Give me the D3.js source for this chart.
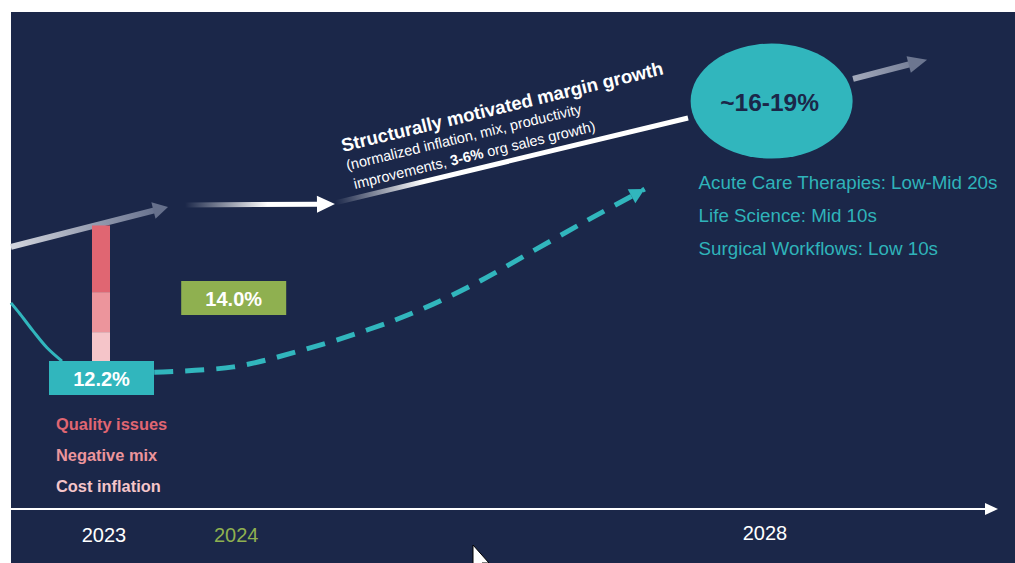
<!DOCTYPE html>
<html>
<head>
<meta charset="utf-8">
<script src="https://cdn.jsdelivr.net/npm/d3@7"></script>
<style>
  html, body { margin: 0; padding: 0; background: #ffffff; }
  svg { display: block; font-family: "Liberation Sans", Arial, sans-serif; }
</style>
</head>
<body>
<svg id="chart" width="1015" height="563"></svg>
<script>
// ---- data ----------------------------------------------------------------
const years = [2023, 2024, 2028];
const yearLabels = ["2023", "2024", "2028"];
const marginValues = [12.2, 14.0];            // adjusted op. margin, 2023 and 2024
const marginLabels = ["12.2%", "14.0%"];
const targetLabel = "~16-19%";
const targetAnchor = [2028.05, 18.43];        // bubble centre (year, margin)

// 2023 margin headwinds, in margin points (stacked from the bottom)
const driverNames = ["Cost inflation", "Negative mix", "Quality issues"];
const driverPoints = [0.65, 0.9, 1.5];

const segmentLabels = [
  "Acute Care Therapies: Low-Mid 20s",
  "Life Science: Mid 10s",
  "Surgical Workflows: Low 10s"
];

// margin decline into 2023 (year, margin)
const declinePath = [[2022.296, 13.89], [2022.365, 13.64], [2022.463, 13.26], [2022.569, 12.88], [2022.682, 12.58]];
// projected recovery path after 2023 (year, margin)
const recoveryPath = [[2023.38, 12.33], [2023.98, 12.45], [2024.48, 12.81], [2024.99, 13.28],
                      [2025.39, 13.73], [2025.83, 14.36], [2026.27, 15.10], [2026.70, 15.82], [2027.09, 16.45]];
// structural trend arrows (year, margin) start -> end
const trendFrom = [[2022.296, 15.15], [2023.613, 16.09], [2024.747, 16.14], [2028.666, 18.93]];
const trendTo   = [[2023.484, 16.05], [2024.747, 16.115], [2027.418, 18.05], [2029.226, 19.36]];

// ---- setup ---------------------------------------------------------------
const NAVY = "#1b2749", TEAL = "#31b6bd", GREEN = "#8fb050";
const driverColors = ["#f5c5c9", "#ec959c", "#e06672"];

const svg = d3.select("#chart");
const x = d3.scaleLinear().domain([2023, 2028]).range([104, 765]);
const y = d3.scaleLinear().domain([12.2, 14.0]).range([378, 298]);

svg.append("rect").attr("x", 11).attr("y", 12).attr("width", 1004).attr("height", 551).attr("fill", NAVY);

const defs = svg.append("defs");
function grad(id, p0, p1, stops) {
  const g = defs.append("linearGradient").attr("id", id).attr("gradientUnits", "userSpaceOnUse")
    .attr("x1", x(p0[0])).attr("y1", y(p0[1])).attr("x2", x(p1[0])).attr("y2", y(p1[1]));
  stops.forEach(s => g.append("stop").attr("offset", s[0]).attr("stop-color", s[1]).attr("stop-opacity", s[2] == null ? 1 : s[2]));
}
grad("g0", trendFrom[0], trendTo[0], [[0, "#d3d6de"], [1, "#5f6a88"]]);
grad("g1", trendFrom[1], trendTo[1], [[0, "#ffffff", 0], [0.55, "#ffffff", 1], [1, "#ffffff", 1]]);
grad("g2", trendFrom[2], trendTo[2], [[0, "#ffffff", 0], [0.25, "#ffffff", 1], [1, "#ffffff", 1]]);
grad("g3", trendFrom[3], trendTo[3], [[0, "#a3a9bb"], [1, "#6c7690"]]);

const headFill = ["#66708c", "#ffffff", null, "#6c7690"];
const headLen = [15, 18, 0, 19];
const lineW = [6, 5, 5, 6];

// ---- trend arrows --------------------------------------------------------
trendFrom.forEach((a, i) => {
  const x0 = x(a[0]), y0 = y(a[1]), x1 = x(trendTo[i][0]), y1 = y(trendTo[i][1]);
  const ang = Math.atan2(y1 - y0, x1 - x0);
  const hl = headLen[i];
  const bx = x1 - hl * Math.cos(ang), by = y1 - hl * Math.sin(ang);
  svg.append("line").attr("x1", x0).attr("y1", y0).attr("x2", bx + (hl ? 1 : 0) * Math.cos(ang)).attr("y2", by + (hl ? 1 : 0) * Math.sin(ang))
    .attr("stroke", `url(#g${i})`).attr("stroke-width", lineW[i]);
  if (hl) {
    const hw = 8.5;
    const px = -Math.sin(ang), py = Math.cos(ang);
    svg.append("path")
      .attr("d", `M${x1},${y1}L${bx + px * hw},${by + py * hw}L${bx - px * hw},${by - py * hw}Z`)
      .attr("fill", headFill[i]);
  }
});

// ---- rotated caption along the structural trend --------------------------
const cap = svg.append("g")
  .attr("transform", `translate(${x(2024.747) + 8},${y(16.14) - 51}) rotate(-13.6)`)
  .attr("fill", "#ffffff");
cap.append("text").attr("x", 0).attr("y", 0).attr("font-size", 18.6).attr("font-weight", "bold")
  .text("Structurally motivated margin growth");
cap.append("text").attr("x", 0).attr("y", 19).attr("font-size", 14.5)
  .text("(normalized inflation, mix, productivity");
const l3 = cap.append("text").attr("x", 3).attr("y", 39).attr("font-size", 14.5);
l3.append("tspan").text("improvements, ");
l3.append("tspan").attr("font-weight", "bold").text("3-6%");
l3.append("tspan").text(" org sales growth)");

// ---- decline and recovery paths -----------------------------------------
const line = d3.line().x(d => x(d[0])).y(d => y(d[1])).curve(d3.curveCatmullRom);
svg.append("path").datum(declinePath).attr("d", line)
  .attr("fill", "none").attr("stroke", TEAL).attr("stroke-width", 3);
svg.append("path").datum(recoveryPath).attr("d", line)
  .attr("fill", "none").attr("stroke", TEAL).attr("stroke-width", 5).attr("stroke-dasharray", "19,12");
{
  const n = recoveryPath.length, p1 = recoveryPath[n - 1], p0 = recoveryPath[n - 2];
  const tx = x(p1[0]), ty = y(p1[1]);
  const ang = Math.atan2(ty - y(p0[1]), tx - x(p0[0]));
  const hl = 15, hw = 8;
  const bx = tx - hl * Math.cos(ang), by = ty - hl * Math.sin(ang);
  const px = -Math.sin(ang), py = Math.cos(ang);
  svg.append("path").attr("d", `M${tx},${ty}L${bx + px * hw},${by + py * hw}L${bx - px * hw},${by - py * hw}Z`).attr("fill", TEAL);
}

// ---- 2023 headwind stack -------------------------------------------------
const boxH = 34, boxW = 105;
let cum = 0;
const stack = driverPoints.map((v, i) => { const s = { i, lo: cum, hi: cum + v }; cum += v; return s; });
svg.selectAll("rect.drv").data(stack).join("rect").attr("class", "drv")
  .attr("x", x(2023) - 12).attr("width", 18)
  .attr("y", d => y(marginValues[0] + d.hi) - boxH / 2)
  .attr("height", d => y(marginValues[0] + d.lo) - y(marginValues[0] + d.hi))
  .attr("fill", d => driverColors[d.i]);

// ---- margin boxes --------------------------------------------------------
const boxX = [x(2023) - 55, x(2024) - 55];
const boxFill = [TEAL, GREEN];
marginValues.forEach((v, i) => {
  svg.append("rect").attr("x", boxX[i]).attr("y", y(v) - boxH / 2).attr("width", boxW).attr("height", boxH).attr("fill", boxFill[i]);
  svg.append("text").attr("x", boxX[i] + boxW / 2).attr("y", y(v) + 8).attr("text-anchor", "middle")
    .attr("font-size", 20).attr("font-weight", "bold").attr("fill", "#ffffff").text(marginLabels[i]);
});

// ---- driver legend -------------------------------------------------------
driverNames.slice().reverse().forEach((name, k) => {
  svg.append("text").attr("x", 56).attr("y", 430 + k * 31).attr("font-size", 16.4).attr("font-weight", "bold")
    .attr("fill", driverColors[driverColors.length - 1 - k]).text(name);
});

// ---- target bubble -------------------------------------------------------
const cx = x(targetAnchor[0]), cy = y(targetAnchor[1]);
svg.append("ellipse").attr("cx", cx).attr("cy", cy).attr("rx", 81).attr("ry", 57.5).attr("fill", TEAL);
svg.append("text").attr("x", cx - 2).attr("y", cy + 10).attr("text-anchor", "middle")
  .attr("font-size", 24.5).attr("font-weight", "bold").attr("fill", NAVY).text(targetLabel);

segmentLabels.forEach((t, k) => {
  svg.append("text").attr("x", cx - 73).attr("y", 189 + k * 33).attr("font-size", 18.75)
    .attr("fill", "#2fb3ba").text(t);
});

// ---- time axis -----------------------------------------------------------
svg.append("line").attr("x1", 11).attr("x2", 987).attr("y1", 509).attr("y2", 509).attr("stroke", "#ffffff").attr("stroke-width", 2);
svg.append("path").attr("d", "M998,509L985,503L985,515Z").attr("fill", "#ffffff");
const yearColors = ["#ffffff", GREEN, "#ffffff"];
years.forEach((yr, i) => {
  svg.append("text").attr("x", x(yr)).attr("y", i === 2 ? 540 : 542).attr("text-anchor", "middle")
    .attr("font-size", 20).attr("fill", yearColors[i]).text(yearLabels[i]);
});

// ---- pointer -------------------------------------------------------------
svg.append("path").attr("d", "M473,545L473,570L478,565L482,574L486,572L482,563L489,563Z")
  .attr("fill", "#ffffff").attr("stroke", "#000000").attr("stroke-width", 1);
</script>
</body>
</html>
